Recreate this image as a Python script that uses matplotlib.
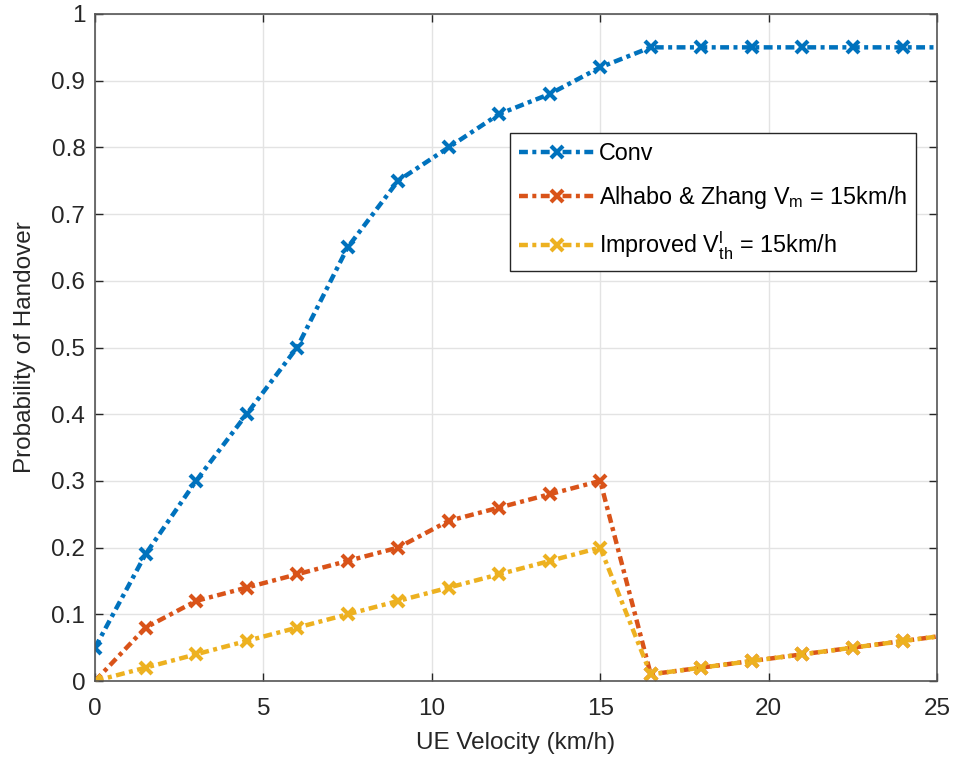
import matplotlib
matplotlib.use("Agg")
import matplotlib.pyplot as plt

plt.rcParams['font.family'] = ['Liberation Sans', 'DejaVu Sans']
plt.rcParams['mathtext.fontset'] = 'custom'
plt.rcParams['mathtext.rm'] = 'Liberation Sans'
plt.rcParams['mathtext.it'] = 'Liberation Sans'

velocity = [0, 1.5, 3, 4.5, 6, 7.5, 9, 10.5, 12, 13.5, 15, 16.5, 18, 19.5, 21, 22.5, 24, 25.5]
conv = [0.05, 0.19, 0.30, 0.40, 0.50, 0.65, 0.75, 0.80, 0.85, 0.88, 0.92, 0.95, 0.95, 0.95, 0.95, 0.95, 0.95, 0.95]
alhabo = [0.0, 0.08, 0.12, 0.14, 0.16, 0.18, 0.20, 0.24, 0.26, 0.28, 0.30, 0.01, 0.02, 0.03, 0.04, 0.05, 0.06, 0.07]
improved = [0.0, 0.02, 0.04, 0.06, 0.08, 0.10, 0.12, 0.14, 0.16, 0.18, 0.20, 0.01, 0.02, 0.03, 0.04, 0.05, 0.06, 0.07]

labels = ['Conv',
          r'Alhabo & Zhang V$_{\mathrm{m}}$ = 15km/h',
          r'Improved V$^{\mathrm{l}}_{\mathrm{th}}$ = 15km/h']
colors = ['#0072BD', '#D95319', '#EDB120']

fig = plt.figure(figsize=(9.55, 7.65), dpi=100)
ax = fig.add_axes([95/955, 1-681/765, (937-95)/955, (681-14)/765])

for y, lab, c in zip([conv, alhabo, improved], labels, colors):
    ax.plot(velocity, y, linestyle=(0, (2.0, 1.0, 0.9, 1.0)), color=c, linewidth=3.2,
            dash_capstyle='butt',
            marker='x', markersize=8, markeredgewidth=3, label=lab)

ax.set_xlim(0, 25)
ax.set_ylim(0, 1)
ax.set_xticks([0, 5, 10, 15, 20, 25])
ax.set_yticks([i/10 for i in range(11)])
ax.set_yticklabels(['0', '0.1', '0.2', '0.3', '0.4', '0.5', '0.6', '0.7', '0.8', '0.9', '1'])
ax.grid(True, color='#e3e3e3', linewidth=1)
ax.set_axisbelow(True)
ax.tick_params(direction='in', top=True, right=True, length=6, width=1,
               labelsize=17.5, colors='#262626')
ax.tick_params(axis='x', pad=12)
ax.tick_params(axis='y', pad=7)
for s in ax.spines.values():
    s.set_color('#555555')
    s.set_linewidth(1.2)
ax.set_xlabel('UE Velocity (km/h)', fontsize=17.5, color='#262626', labelpad=9)
ax.set_ylabel('Probability of Handover', fontsize=17.5, color='#262626', labelpad=11)

leg = ax.legend(loc='upper left', bbox_to_anchor=((510-95)/842, 1-(133-14)/667),
                fontsize=16.8, handlelength=3.2, frameon=True, fancybox=False,
                edgecolor='#262626', framealpha=1, borderpad=0.4, labelspacing=0.8,
                handletextpad=0.2, borderaxespad=0)
leg.get_frame().set_linewidth(1.0)

fig.savefig('out.png', dpi=100)
